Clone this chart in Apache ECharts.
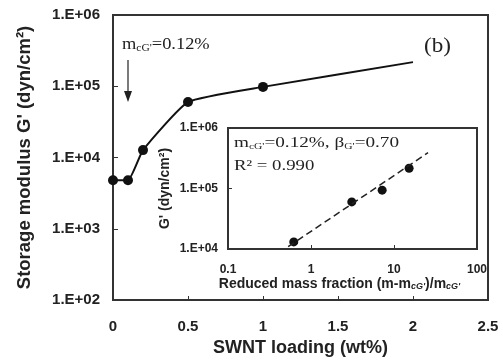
<!DOCTYPE html>
<html>
<head>
<meta charset="utf-8">
<script src="https://cdn.jsdelivr.net/npm/echarts@6/dist/echarts.min.js"></script>
<style>
  html, body { margin: 0; padding: 0; background: #fff; }
  #chart { width: 503px; height: 363px; }
</style>
</head>
<body>
<div id="chart"></div>
<script>
// main panel: G' vs SWNT loading
const loading = [0, 0.1, 0.2, 0.5, 1.0, 2.0];
const modulus = [4800, 4800, 12700, 60000, 98000, 218000];
const xTicks = ['0', '0.5', '1', '1.5', '2', '2.5'];

// inset: G' vs reduced mass fraction
const reduced = [0.62, 3.1, 7.2, 15.2];
const insetModulus = [13100, 60000, 94000, 216000];
const fitX = [0.53, 25.7];
const fitY = [10900, 390000];
const insetXTicks = ['0.1', '1', '10', '100'];

const chart = echarts.init(document.getElementById('chart'));

const sans = 'Liberation Sans, Arial, sans-serif';
const serif = 'Liberation Serif, Times New Roman, serif';
const axisCol = '#333';
const ink = '#222';

const expLabel = (v) => {
    const e = Math.round(Math.log10(v));
    return '1.E+' + (e < 10 ? '0' + e : e);
};

// last point (2 wt%) has no marker in the figure
const mainPts = loading.map((x, i) =>
    i === loading.length - 1 ? { value: [x, modulus[i]], symbolSize: 0 } : [x, modulus[i]]);

const option = {
    animation: false,
    grid: [
        { left: 113, top: 15, right: 15, bottom: 63, show: true, borderColor: axisCol, borderWidth: 2 },
        { left: 228, top: 128, right: 26, bottom: 114, show: true, borderColor: axisCol, borderWidth: 2, backgroundColor: '#fff' },
    ],
    xAxis: [
        {
            gridIndex: 0, type: 'value', min: 0, max: 2.5, interval: 0.5,
            axisLine: { lineStyle: { color: axisCol, width: 2 } },
            axisTick: { inside: true, length: 4, lineStyle: { color: axisCol } },
            splitLine: { show: false },
            axisLabel: {
                margin: 19, color: ink, fontFamily: sans, fontWeight: 'bold', fontSize: 15,
                formatter: (v) => xTicks[Math.round(v / 0.5)],
            },
            name: 'SWNT loading (wt%)', nameLocation: 'middle', nameGap: 32,
            nameTextStyle: { color: ink, fontFamily: sans, fontWeight: 'bold', fontSize: 18 },
        },
        {
            gridIndex: 1, type: 'log', logBase: 10, min: 0.1, max: 100,
            axisLine: { lineStyle: { color: axisCol, width: 2 } },
            axisTick: { inside: true, length: 4, lineStyle: { color: axisCol } },
            splitLine: { show: false },
            axisLabel: {
                margin: 15, color: ink, fontFamily: sans, fontWeight: 'bold', fontSize: 12,
                formatter: (v) => insetXTicks[Math.round(Math.log10(v)) + 1],
            },
            name: "Reduced mass fraction (m-m{s|cG'})/m{s|cG'}", nameLocation: 'middle', nameGap: 28,
            nameTextStyle: {
                color: ink, fontFamily: sans, fontWeight: 'bold', fontSize: 14,
                padding: [0, 26, 0, 0],
                rich: { s: { fontSize: 9, fontStyle: 'italic', fontWeight: 'bold', color: ink, verticalAlign: 'bottom', padding: [5, 0, 0, 0] } },
            },
        },
    ],
    yAxis: [
        {
            gridIndex: 0, type: 'log', logBase: 10, min: 100, max: 1e6,
            axisLine: { lineStyle: { color: axisCol, width: 2 } },
            axisTick: { inside: true, length: 5, lineStyle: { color: axisCol } },
            splitLine: { show: false },
            axisLabel: {
                margin: 13, color: ink, fontFamily: sans, fontWeight: 'bold', fontSize: 15,
                formatter: expLabel,
            },
            name: "Storage modulus G' (dyn/cm²)", nameLocation: 'middle', nameGap: 79,
            nameTextStyle: { color: ink, fontFamily: sans, fontWeight: 'bold', fontSize: 18.5 },
        },
        {
            gridIndex: 1, type: 'log', logBase: 10, min: 1e4, max: 1e6,
            axisLine: { lineStyle: { color: axisCol, width: 2 } },
            axisTick: { inside: true, length: 4, lineStyle: { color: axisCol } },
            splitLine: { show: false },
            axisLabel: {
                margin: 10, color: ink, fontFamily: sans, fontWeight: 'bold', fontSize: 12,
                formatter: expLabel,
            },
            name: "G' (dyn/cm²)", nameLocation: 'middle', nameGap: 56,
            nameTextStyle: { color: ink, fontFamily: sans, fontWeight: 'bold', fontSize: 14 },
        },
    ],
    series: [
        {
            type: 'line', xAxisIndex: 0, yAxisIndex: 0,
            data: mainPts, smooth: 0.15,
            symbol: 'circle', symbolSize: 10,
            itemStyle: { color: '#111' },
            lineStyle: { color: '#111', width: 2 },
        },
        {
            type: 'line', xAxisIndex: 1, yAxisIndex: 1,
            data: fitX.map((x, i) => [x, fitY[i]]),
            symbol: 'none',
            lineStyle: { color: ink, width: 1.5, type: [7, 4] },
        },
        {
            type: 'scatter', xAxisIndex: 1, yAxisIndex: 1,
            data: reduced.map((x, i) => [x, insetModulus[i]]),
            symbolSize: 9,
            itemStyle: { color: '#111', opacity: 1 },
        },
    ],
    graphic: [
        {
            type: 'text', left: 122, top: 37, scaleX: 1.15,
            style: {
                text: "m{s|cG'}=0.12%",
                font: '16px ' + serif, fill: ink,
                rich: { s: { fontSize: 10, fontFamily: serif, fill: ink, verticalAlign: 'bottom', padding: [6, 0, 0, 0] } },
            },
        },
        { type: 'line', shape: { x1: 128, y1: 60, x2: 128, y2: 98 }, style: { stroke: ink, lineWidth: 1.2 } },
        { type: 'polygon', shape: { points: [[124, 91], [132, 91], [128, 102]] }, style: { fill: ink } },
        {
            type: 'text', left: 424, top: 36, scaleX: 1.1,
            style: { text: '(b)', font: '21px ' + serif, fill: ink },
        },
        {
            type: 'text', left: 234, top: 136, scaleX: 1.28,
            style: {
                text: "m{s|cG'}=0.12%, β{s|G'}=0.70",
                font: '15px ' + serif, fill: ink,
                rich: { s: { fontSize: 9, fontFamily: serif, fill: ink, verticalAlign: 'bottom', padding: [5, 0, 0, 0] } },
            },
        },
        {
            type: 'text', left: 234, top: 159, scaleX: 1.25,
            style: { text: 'R² = 0.990', font: '15px ' + serif, fill: ink },
        },
    ],
};

chart.setOption(option);
</script>
</body>
</html>
